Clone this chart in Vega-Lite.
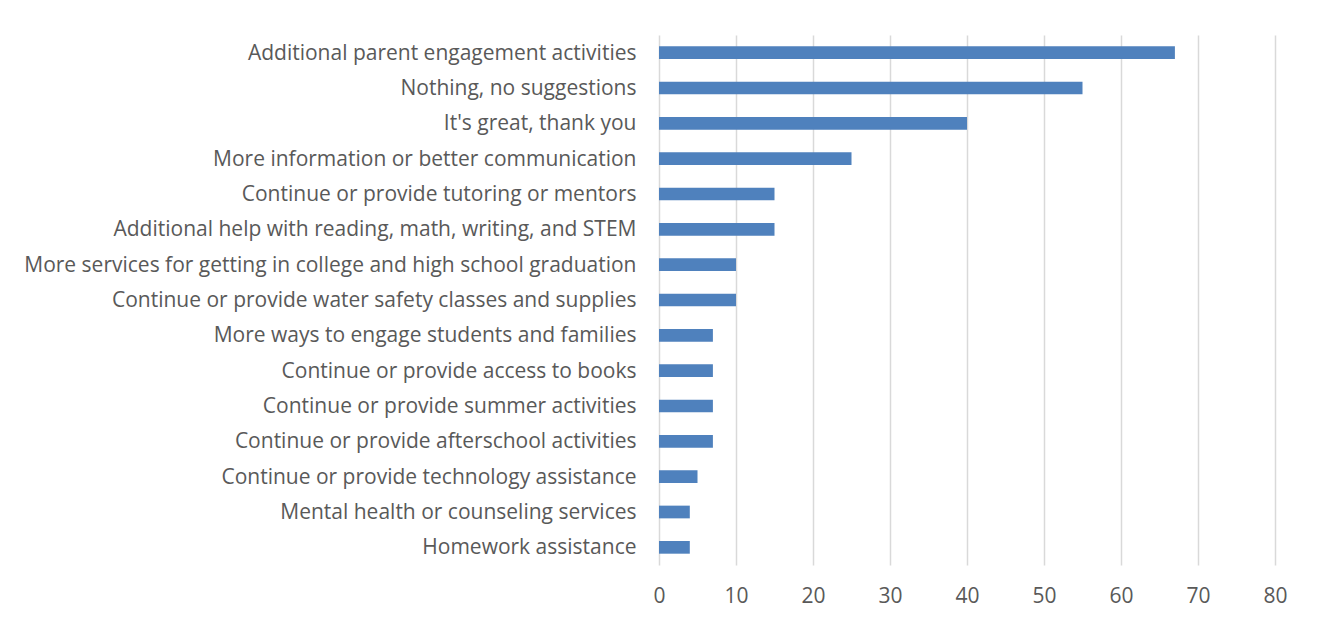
{
  "$schema": "https://vega.github.io/schema/vega-lite/v6.json",
  "width": 616,
  "height": 530,
  "autosize": {"type": "none"},
  "padding": {"left": 659, "top": 35, "right": 43, "bottom": 59},
  "background": "white",
  "data": {"values": [
    {"item": "Additional parent engagement activities", "count": 67},
    {"item": "Nothing, no suggestions", "count": 55},
    {"item": "It's great, thank you", "count": 40},
    {"item": "More information or better communication", "count": 25},
    {"item": "Continue or provide tutoring or mentors", "count": 15},
    {"item": "Additional help with reading, math, writing, and STEM", "count": 15},
    {"item": "More services for getting in college and high school graduation", "count": 10},
    {"item": "Continue or provide water safety classes and supplies", "count": 10},
    {"item": "More ways to engage students and families", "count": 7},
    {"item": "Continue or provide access to books", "count": 7},
    {"item": "Continue or provide summer activities", "count": 7},
    {"item": "Continue or provide afterschool activities", "count": 7},
    {"item": "Continue or provide technology assistance", "count": 5},
    {"item": "Mental health or counseling services", "count": 4},
    {"item": "Homework assistance", "count": 4}
  ]},
  "mark": {"type": "bar", "color": "#4F81BD"},
  "encoding": {
    "y": {
      "field": "item", "type": "nominal", "sort": null,
      "scale": {"paddingInner": 0.64, "paddingOuter": 0.32},
      "axis": {"title": null, "domain": false, "ticks": false, "labelPadding": 23, "labelOffset": 1, "labelFontSize": 21, "labelFont": "Open Sans", "labelColor": "#595959", "labelLimit": 700}
    },
    "x": {
      "field": "count", "type": "quantitative",
      "scale": {"domain": [0, 80], "nice": false},
      "axis": {"title": null, "domain": false, "ticks": false, "values": [0,10,20,30,40,50,60,70,80], "grid": true, "gridColor": "#d9d9d9", "gridWidth": 1.5, "labelPadding": 20, "labelFlush": false, "labelFontSize": 21, "labelFont": "Open Sans", "labelColor": "#595959"}
    }
  },
  "config": {"view": {"stroke": null}}
}
